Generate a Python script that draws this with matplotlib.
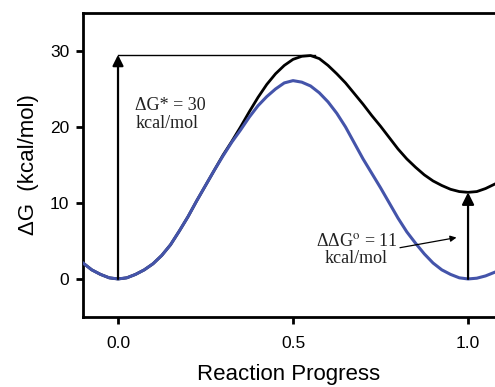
"""
Energy profile: reaction progress vs. free energy (two curves)
"""

import matplotlib
matplotlib.use('Agg')
import matplotlib.pyplot as plt

# reaction coordinate sampled along the curves
progress = [-0.100, -0.075, -0.050, -0.025, 0.000, 0.025, 0.050, 0.075,
            0.100, 0.125, 0.150, 0.175, 0.200, 0.225, 0.250, 0.275,
            0.300, 0.325, 0.350, 0.375, 0.400, 0.425, 0.450, 0.475,
            0.500, 0.525, 0.550, 0.575, 0.600, 0.625, 0.650, 0.675,
            0.700, 0.725, 0.750, 0.775, 0.800, 0.825, 0.850, 0.875,
            0.900, 0.925, 0.950, 0.975, 1.000, 1.025, 1.050, 1.077]

# symmetric double well (blue)
dg_blue = [2.1, 1.2, 0.6, 0.15, 0.0, 0.15, 0.6, 1.2,
           2.0, 3.1, 4.5, 6.3, 8.2, 10.3, 12.3, 14.3,
           16.2, 18.0, 19.6, 21.3, 22.8, 24.0, 25.0, 25.8,
           26.1, 25.9, 25.4, 24.5, 23.3, 21.8, 20.0, 17.9,
           15.8, 13.9, 12.0, 10.0, 8.0, 6.2, 4.7, 3.3,
           2.1, 1.2, 0.6, 0.15, 0.0, 0.1, 0.4, 0.9]

# tilted well (black)
dg_black = [2.1, 1.2, 0.6, 0.15, 0.0, 0.15, 0.6, 1.2,
            2.0, 3.1, 4.5, 6.3, 8.2, 10.3, 12.3, 14.3,
            16.3, 18.1, 20.0, 22.0, 23.9, 25.6, 27.0, 28.1,
            28.9, 29.3, 29.4, 29.0, 28.1, 27.0, 25.8, 24.4,
            23.0, 21.5, 20.1, 18.6, 17.1, 15.8, 14.7, 13.7,
            12.9, 12.3, 11.8, 11.5, 11.4, 11.5, 11.9, 12.5]

barrier = 29.5       # ΔG* level
product_min = 11.4   # ΔΔG° level

x_ticks = [0.0, 0.5, 1.0]
x_ticklabels = ['0.0', '0.5', '1.0']
y_ticks = [0, 10, 20, 30]

BLUE = '#4454aa'

plt.rcParams.update({
    'font.family': ['Liberation Sans', 'DejaVu Sans'],
    'mathtext.fontset': 'stix',
})

fig = plt.figure(figsize=(4.95, 3.87), dpi=100, facecolor='white')
ax = fig.add_axes([0.1677, 0.181, 0.8323, 0.7854])

ax.plot(progress, dg_black, color='black', lw=2.0, zorder=2)
ax.plot(progress, dg_blue, color=BLUE, lw=2.2, zorder=3)

# barrier reference line
ax.plot([0.0, 0.563], [barrier, barrier], color='black', lw=1.0, zorder=1)

# vertical arrows
ax.annotate('', xy=(0.0, barrier), xytext=(0.0, 0.0),
            arrowprops=dict(arrowstyle='-|>', lw=1.6, color='black',
                            mutation_scale=16, shrinkA=0, shrinkB=0), zorder=4)
ax.annotate('', xy=(1.0, product_min), xytext=(1.0, 0.0),
            arrowprops=dict(arrowstyle='-|>', lw=1.6, color='black',
                            mutation_scale=18, shrinkA=0, shrinkB=0), zorder=4)

serif = ['Liberation Serif', 'DejaVu Serif']
ax.text(0.049, 24.0, 'ΔG* = 30\nkcal/mol', family=serif, fontsize=13,
        va='top', ha='left', linespacing=1.1, color='#222222')

ax.annotate('ΔΔG$^{\\mathrm{o}}$ = 11\nkcal/mol', xy=(0.967, 5.45), xytext=(0.681, 6.1),
            family=serif, fontsize=13, ha='center', va='top', linespacing=1.05,
            multialignment='center', color='#222222',
            arrowprops=dict(arrowstyle='-|>', lw=0.9, color='black',
                            mutation_scale=9, shrinkA=0, shrinkB=0,
                            relpos=(1.0, 0.55)))

ax.set_xlim(-0.1, 1.077)
ax.set_ylim(-5, 35)
ax.set_xticks(x_ticks)
ax.set_xticklabels(x_ticklabels)
ax.set_yticks(y_ticks)

for side in ['left', 'bottom', 'top']:
    ax.spines[side].set_linewidth(2.0)
ax.spines['right'].set_visible(False)

ax.tick_params(axis='both', direction='out', length=5, width=2, labelsize=12.5)
ax.tick_params(axis='x', pad=9)
ax.tick_params(axis='y', pad=5)

ax.set_xlabel('Reaction Progress', fontsize=16, labelpad=9)
ax.set_ylabel('ΔG  (kcal/mol)', fontsize=16, labelpad=8)

fig.savefig('out.png', dpi=100, facecolor='white')
plt.close(fig)
